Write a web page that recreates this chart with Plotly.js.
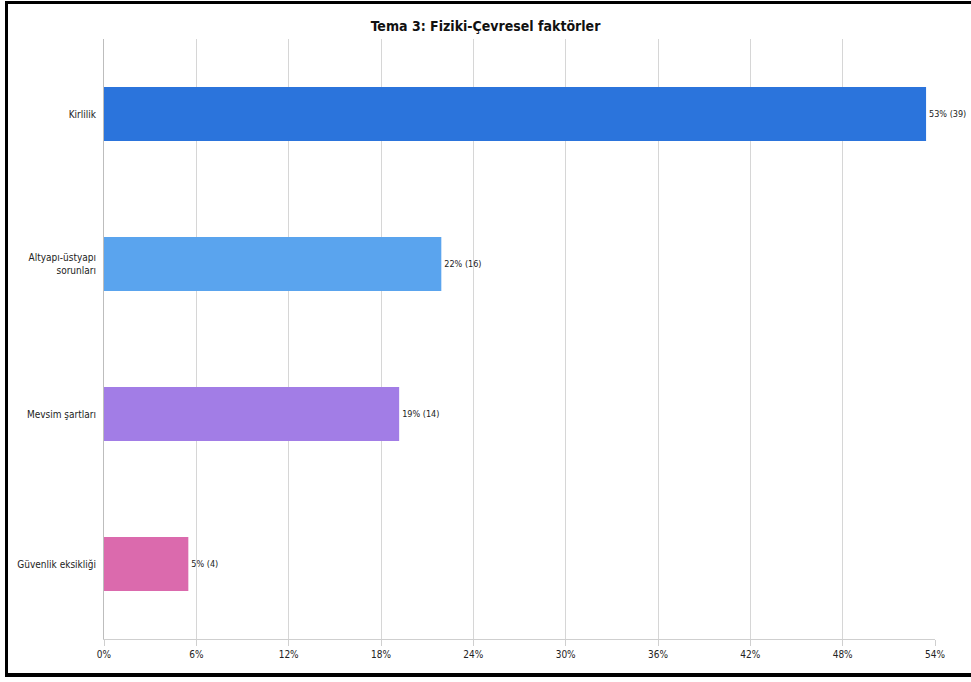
<!DOCTYPE html>
<html>
<head>
<meta charset="utf-8">
<script src="https://cdn.plot.ly/plotly-3.0.1.min.js"></script>
<style>
  html, body { margin: 0; padding: 0; background: #fff; overflow: hidden; }
  #frame { position: absolute; left: 5px; top: 1px; width: 1000px; height: 676px;
           border-left: 3px solid #000; border-top: 3px solid #000; border-bottom: 4px solid #000; box-sizing: border-box; }
  #chart { position: absolute; left: 0; top: 0; width: 971px; height: 682px; }
</style>
</head>
<body>
<div id="frame"></div>
<div id="chart"></div>
<script>
const categories = ["Kirlilik", "Altyapı-üstyapı<br>sorunları", "Mevsim şartları", "Güvenlik eksikliği"];
const percents = [53.42, 21.92, 19.18, 5.48];
const counts = [39, 16, 14, 4];
const barLabels = ["53% (39)", "22% (16)", "19% (14)", "5% (4)"];
const barColors = ["#2b74dc", "#5aa4ee", "#a27de6", "#db6aad"];
const tickValues = [0, 6, 12, 18, 24, 30, 36, 42, 48, 54];
const tickLabels = ["0%", "6%", "12%", "18%", "24%", "30%", "36%", "42%", "48%", "54%"];

const FONT = "DejaVu Sans Condensed, Liberation Sans Narrow, sans-serif";

const trace = {
  type: "bar",
  orientation: "h",
  y: categories,
  x: percents,
  customdata: counts,
  text: barLabels,
  textposition: "outside",
  cliponaxis: false,
  textfont: { family: FONT, size: 9, color: "#222" },
  marker: { color: barColors, line: { width: 0 } },
  width: 0.36,
  hoverinfo: "none"
};

const layout = {
  width: 971,
  height: 682,
  paper_bgcolor: "rgba(0,0,0,0)",
  plot_bgcolor: "rgba(0,0,0,0)",
  margin: { l: 104, r: 36, t: 39, b: 43 },
  title: {
    text: "<b>Tema 3: Fiziki-Çevresel faktörler</b>",
    font: { family: FONT, size: 14, color: "#111" },
    x: 0.5, xanchor: "center",
    y: 0.962, yanchor: "middle"
  },
  showlegend: false,
  font: { family: FONT, size: 10, color: "#222" },
  xaxis: {
    range: [0, 54],
    tickvals: tickValues,
    ticktext: tickLabels,
    showgrid: true,
    gridcolor: "#d6d6d6",
    gridwidth: 1,
    zeroline: false,
    showline: true,
    linecolor: "#cfcfcf",
    ticks: "outside",
    ticklen: 6,
    tickcolor: "#cfcfcf",
    tickfont: { family: FONT, size: 10, color: "#222" },
    fixedrange: true
  },
  yaxis: {
    autorange: "reversed",
    showline: true,
    linecolor: "#bdbdbd",
    showgrid: false,
    ticks: "",
    ticklabelstandoff: 5,
    tickfont: { family: FONT, size: 10, color: "#222" },
    fixedrange: true
  }
};

Plotly.newPlot("chart", [trace], layout, { displayModeBar: false, staticPlot: true });
</script>
</body>
</html>
